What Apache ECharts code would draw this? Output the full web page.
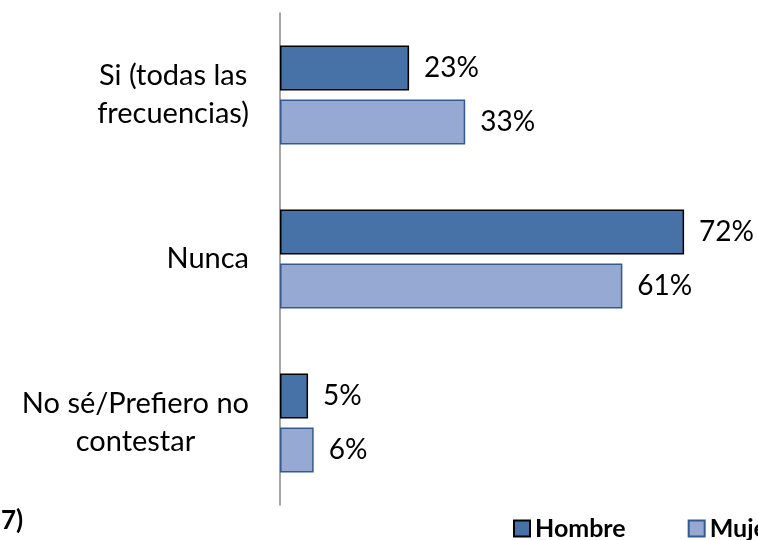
<!DOCTYPE html>
<html>
<head>
<meta charset="utf-8">
<script src="https://cdn.jsdelivr.net/npm/echarts@6/dist/echarts.min.js"></script>
<style>html,body{margin:0;padding:0;background:#fff;}#c{width:758px;height:540px;}</style>
</head>
<body>
<div id="c"></div>
<script>
const categories = ['Si (todas las\nfrecuencias)', 'Nunca', 'No sé/Prefiero no\ncontestar'];
const hombre = [23, 72, 5];
const mujer = [33, 61, 6];
const seriesNames = ['Hombre', 'Mujer'];

const chart = echarts.init(document.getElementById('c'));
const FONT = 'Lato';
chart.setOption({
  animation: false,
  title: {
    text: '7)', left: 1, top: 508, padding: 0,
    textStyle: { fontFamily: FONT, fontWeight: 'bold', fontSize: 26, color: '#000' }
  },
  legend: {
    data: seriesNames,
    left: 513, top: 516, width: 700, padding: 0,
    icon: 'rect',
    itemWidth: 16, itemHeight: 16, itemGap: 62,
    textStyle: { fontFamily: FONT, fontWeight: 'bold', fontSize: 25, color: '#000' }
  },
  grid: { left: 280, top: 13, width: 449, height: 492 },
  xAxis: {
    type: 'value', min: 0, max: 80, show: false
  },
  yAxis: {
    type: 'category', data: categories, inverse: true,
    axisLine: { lineStyle: { color: '#888', width: 1.5 } },
    axisTick: { show: false },
    axisLabel: {
      margin: 31,
      formatter: function (v) {
        return v.split('\n').map(s => '{a|' + s + '}').join('\n');
      },
      rich: { a: { align: 'center', fontFamily: FONT, fontSize: 29, color: '#000', lineHeight: 38 } }
    }
  },
  series: [
    {
      name: 'Hombre', type: 'bar', data: hombre, barWidth: 45, barGap: '20%',
      itemStyle: { color: '#4672A8', borderColor: '#000', borderWidth: 1.5 },
      label: { show: true, position: 'right', distance: 15, formatter: '{c}%', fontFamily: FONT, fontSize: 28, color: '#000' }
    },
    {
      name: 'Mujer', type: 'bar', data: mujer, barWidth: 45,
      itemStyle: { color: '#95A9D3', borderColor: '#35598F', borderWidth: 1.5 },
      label: { show: true, position: 'right', distance: 15, formatter: '{c}%', fontFamily: FONT, fontSize: 28, color: '#000' }
    }
  ]
});
</script>
</body>
</html>
